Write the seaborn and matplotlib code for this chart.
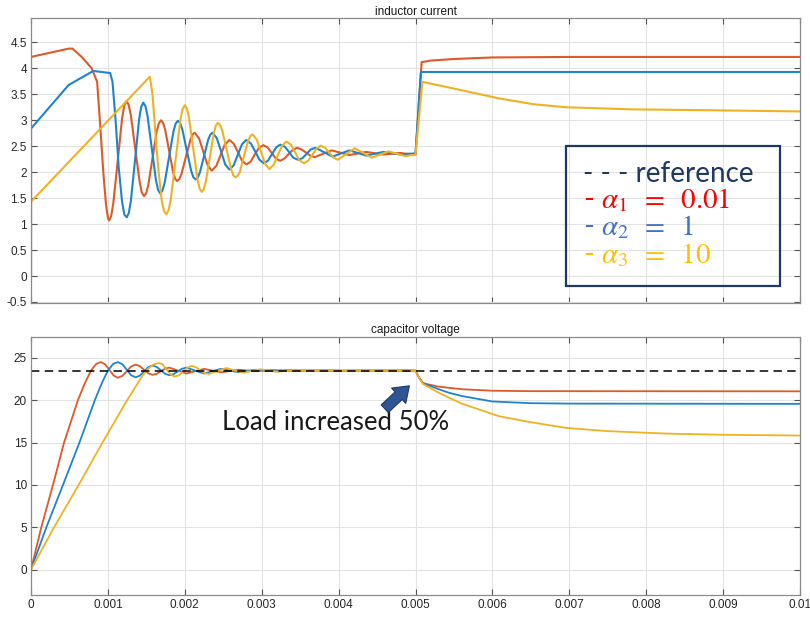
import matplotlib
matplotlib.use("Agg")
import matplotlib.pyplot as plt
import pandas as pd
import seaborn as sns
from matplotlib.patches import Rectangle

# ---------------- data (time in ms) ----------------
x_ticks = [0, 1, 2, 3, 4, 5, 6, 7, 8, 9, 10]
x_ticklabels = ["0", "0.001", "0.002", "0.003", "0.004", "0.005",
                "0.006", "0.007", "0.008", "0.009", "0.01"]
iL_yticks = [-0.5, 0, 0.5, 1, 1.5, 2, 2.5, 3, 3.5, 4, 4.5]
iL_yticklabels = ["-0.5", "0", "0.5", "1", "1.5", "2", "2.5", "3", "3.5", "4", "4.5"]
vC_yticks = [0, 5, 10, 15, 20, 25]
vC_yticklabels = ["0", "5", "10", "15", "20", "25"]

series_names = ["alpha1", "alpha2", "alpha3"]
series_colors = ["#DE5A28", "#1F84CF", "#F0B224"]

# inductor current, alpha1 = 0.01
iL_a1 = [(0, 0), (0, 4.22), (0.49, 4.38), (0.54, 4.38), (0.66, 4.22), (0.79, 4.0), (0.86, 3.74),
         (0.90, 2.9), (0.94, 2.0), (0.975, 1.38), (1.0, 1.12), (1.015, 1.07),
         (1.043, 1.157), (1.071, 1.41), (1.128, 2.22), (1.184, 3.03), (1.212, 3.28), (1.24, 3.37),
         (1.269, 3.30), (1.298, 3.10), (1.355, 2.46), (1.413, 1.81), (1.441, 1.61), (1.47, 1.54),
         (1.498, 1.595), (1.525, 1.75), (1.58, 2.27), (1.635, 2.79), (1.663, 2.94), (1.69, 3.00),
         (1.716, 2.955), (1.743, 2.83), (1.795, 2.42), (1.848, 2.00), (1.874, 1.875), (1.90, 1.83),
         (1.929, 1.865), (1.958, 1.97), (2.015, 2.30), (2.073, 2.62), (2.101, 2.725), (2.13, 2.76),
         (2.185, 2.65), (2.24, 2.40), (2.295, 2.14), (2.35, 2.03),
         (2.41, 2.12), (2.465, 2.33), (2.52, 2.53), (2.58, 2.62),
         (2.635, 2.55), (2.69, 2.39), (2.745, 2.22), (2.80, 2.15),
         (2.855, 2.20), (2.91, 2.34), (2.965, 2.47), (3.02, 2.52),
         (3.075, 2.48), (3.13, 2.37), (3.185, 2.26), (3.24, 2.22),
         (3.295, 2.26), (3.35, 2.35), (3.405, 2.43), (3.46, 2.47),
         (3.515, 2.44), (3.575, 2.38), (3.63, 2.32), (3.69, 2.29),
         (3.80, 2.355), (3.91, 2.42), (4.025, 2.375), (4.14, 2.33), (4.25, 2.36),
         (4.36, 2.39), (4.47, 2.365), (4.58, 2.34), (4.69, 2.355), (4.80, 2.37),
         (4.90, 2.35), (5.0, 2.34),
         (5.08, 4.12), (5.2, 4.15), (5.5, 4.18), (6.0, 4.21), (7.0, 4.22), (10.0, 4.22)]

# inductor current, alpha2 = 1
iL_a2 = [(0, 0), (0, 2.84), (0.49, 3.68), (0.81, 3.95), (1.03, 3.91), (1.06, 3.74),
         (1.10, 3.0), (1.14, 2.1), (1.185, 1.42), (1.215, 1.18), (1.245, 1.13),
         (1.272, 1.214), (1.299, 1.45), (1.353, 2.235), (1.406, 3.02), (1.433, 3.256), (1.46, 3.34),
         (1.488, 3.273), (1.515, 3.085), (1.57, 2.465), (1.625, 1.845), (1.653, 1.657), (1.68, 1.59),
         (1.709, 1.643), (1.738, 1.794), (1.795, 2.29), (1.853, 2.786), (1.881, 2.937), (1.91, 2.99),
         (1.939, 2.947), (1.968, 2.825), (2.025, 2.425), (2.083, 2.025), (2.111, 1.903), (2.14, 1.86),
         (2.168, 1.894), (2.195, 1.99), (2.25, 2.31), (2.305, 2.63), (2.333, 2.726), (2.36, 2.76),
         (2.415, 2.66), (2.47, 2.41), (2.525, 2.15), (2.58, 2.05),
         (2.635, 2.13), (2.69, 2.34), (2.745, 2.54), (2.80, 2.62),
         (2.86, 2.55), (2.915, 2.40), (2.97, 2.24), (3.03, 2.17),
         (3.08, 2.22), (3.135, 2.35), (3.19, 2.48), (3.24, 2.53),
         (3.30, 2.49), (3.355, 2.39), (3.41, 2.28), (3.47, 2.24),
         (3.53, 2.27), (3.585, 2.355), (3.64, 2.44), (3.70, 2.47),
         (3.81, 2.385), (3.92, 2.30), (4.03, 2.36), (4.14, 2.42), (4.25, 2.37),
         (4.36, 2.32), (4.47, 2.355), (4.58, 2.39), (4.69, 2.365), (4.80, 2.34),
         (4.90, 2.355), (5.0, 2.36),
         (5.07, 3.93), (10.0, 3.93)]

# inductor current, alpha3 = 10
iL_a3 = [(0, 0), (0, 1.43), (1.545, 3.84), (1.58, 3.5), (1.62, 2.7), (1.66, 2.0), (1.70, 1.45),
         (1.73, 1.25), (1.76, 1.19),
         (1.79, 1.27), (1.82, 1.497), (1.88, 2.24), (1.94, 2.983), (1.97, 3.21), (2.00, 3.29),
         (2.028, 3.227), (2.055, 3.046), (2.11, 2.455), (2.165, 1.864), (2.193, 1.683), (2.22, 1.62),
         (2.246, 1.67), (2.273, 1.814), (2.325, 2.285), (2.378, 2.756), (2.404, 2.899), (2.43, 2.95),
         (2.459, 2.91), (2.488, 2.797), (2.545, 2.425), (2.603, 2.053), (2.631, 1.94), (2.66, 1.90),
         (2.688, 1.932), (2.715, 2.0), (2.77, 2.315), (2.825, 2.609), (2.853, 2.698), (2.88, 2.73),
         (2.935, 2.63), (2.99, 2.40), (3.045, 2.16), (3.10, 2.06),
         (3.155, 2.14), (3.21, 2.33), (3.265, 2.51), (3.32, 2.59),
         (3.38, 2.53), (3.435, 2.38), (3.49, 2.23), (3.55, 2.17),
         (3.605, 2.22), (3.66, 2.34), (3.715, 2.46), (3.77, 2.51),
         (3.825, 2.47), (3.88, 2.375), (3.935, 2.28), (3.99, 2.24),
         (4.10, 2.35), (4.21, 2.46), (4.32, 2.37), (4.43, 2.28), (4.54, 2.34),
         (4.65, 2.40), (4.76, 2.355), (4.87, 2.31), (4.95, 2.33), (5.0, 2.33),
         (5.09, 3.74), (5.44, 3.63), (6.09, 3.42), (6.53, 3.31), (6.96, 3.25),
         (7.83, 3.21), (9.0, 3.19), (10.0, 3.17)]

# capacitor voltage, alpha1 = 0.01
vC_a1 = [(0, 0), (0.134, 5), (0.286, 10), (0.43, 15), (0.61, 20), (0.70, 22.0), (0.78, 23.5),
         (0.85, 24.3), (0.91, 24.5),
         (0.965, 24.23), (1.02, 23.58), (1.075, 22.92), (1.13, 22.65),
         (1.19, 22.88), (1.245, 23.43), (1.30, 23.97), (1.36, 24.2),
         (1.415, 24.03), (1.47, 23.6), (1.525, 23.18), (1.58, 23.0),
         (1.635, 23.12), (1.69, 23.43), (1.745, 23.73), (1.80, 23.85),
         (1.91, 23.5), (2.02, 23.15), (2.135, 23.43), (2.25, 23.7), (2.36, 23.5),
         (2.47, 23.3), (2.585, 23.45), (2.70, 23.6), (2.81, 23.51), (2.92, 23.42),
         (3.15, 23.56), (3.37, 23.46), (3.6, 23.53), (3.82, 23.48), (4.2, 23.5), (5.0, 23.5),
         (5.05, 22.6), (5.1, 22.0), (5.3, 21.6), (5.44, 21.46), (5.6, 21.3), (6.0, 21.12),
         (6.5, 21.07), (10.0, 21.05)]

# capacitor voltage, alpha2 = 1
vC_a2 = [(0, 0), (0.2, 5), (0.416, 10), (0.63, 15), (0.83, 20), (0.92, 22.0), (1.0, 23.5),
         (1.07, 24.3), (1.13, 24.5),
         (1.19, 24.24), (1.245, 23.6), (1.30, 22.96), (1.36, 22.7),
         (1.415, 22.9), (1.47, 23.4), (1.525, 23.9), (1.58, 24.1),
         (1.635, 23.93), (1.69, 23.53), (1.745, 23.12), (1.80, 22.95),
         (1.855, 23.08), (1.91, 23.4), (1.965, 23.72), (2.02, 23.85),
         (2.135, 23.5), (2.25, 23.15), (2.36, 23.43), (2.47, 23.7), (2.585, 23.5),
         (2.70, 23.3), (2.81, 23.45), (2.92, 23.6), (3.035, 23.51), (3.15, 23.42),
         (3.37, 23.56), (3.6, 23.46), (3.82, 23.53), (4.05, 23.48), (4.4, 23.5), (5.0, 23.5),
         (5.05, 22.6), (5.1, 22.0), (5.3, 21.3), (5.44, 20.87), (5.6, 20.5), (6.0, 19.85),
         (6.5, 19.65), (7.0, 19.6), (10.0, 19.57)]

# capacitor voltage, alpha3 = 10
vC_a3 = [(0, 0), (0.3, 5), (0.62, 10), (0.93, 15), (1.25, 20), (1.45, 22.9), (1.52, 23.7),
         (1.59, 24.2), (1.66, 24.4),
         (1.71, 24.25), (1.765, 23.6), (1.82, 23.0), (1.87, 22.8),
         (1.925, 22.95), (1.98, 23.4), (2.035, 23.85), (2.09, 24.05),
         (2.145, 23.9), (2.2, 23.55), (2.255, 23.2), (2.31, 23.1),
         (2.425, 23.45), (2.54, 23.8), (2.65, 23.52), (2.76, 23.25), (2.87, 23.45),
         (2.98, 23.65), (3.09, 23.5), (3.2, 23.35), (3.42, 23.58), (3.64, 23.44),
         (3.86, 23.53), (4.1, 23.48), (4.5, 23.5), (5.0, 23.5),
         (5.05, 22.6), (5.1, 21.9), (5.3, 20.9), (5.44, 20.28), (5.6, 19.6), (6.09, 18.1),
         (6.5, 17.4), (6.96, 16.73), (7.5, 16.35), (8.26, 16.06), (9.0, 15.92), (10.0, 15.83)]

ref_t = [0, 10]
ref_v = [23.5, 23.5]

legend_labels = ["- - - reference", r"- $\alpha_1\;\;=\;\;0.01$", r"- $\alpha_2\;\;=\;\;1$",
                 r"- $\alpha_3\;\;=\;\;10$"]
legend_colors = ["#1F3864", "#FF0000", "#4472C4", "#FFC000"]
annotation_text = "Load increased 50%"

# ---------------- figure ----------------
sns.set_theme(style="whitegrid")
plt.rcParams['font.family'] = ['Liberation Sans', 'DejaVu Sans']
plt.rcParams['mathtext.fontset'] = 'stix'

W, H = 810, 617
fig = plt.figure(figsize=(W / 100, H / 100), dpi=100)
fig.patch.set_facecolor("white")


def fx(x):
    return x / W


def fy(y):
    return 1 - y / H


ax1 = fig.add_axes([fx(31), fy(303), fx(800) - fx(31), fy(18) - fy(303)])
ax2 = fig.add_axes([fx(31), fy(595), fx(800) - fx(31), fy(336.7) - fy(595)])


def to_df(points, name):
    return pd.DataFrame({"t": [p[0] for p in points], "v": [p[1] for p in points], "series": name})


iL_df = pd.concat([to_df(iL_a1, "alpha1"), to_df(iL_a2, "alpha2"), to_df(iL_a3, "alpha3")],
                  ignore_index=True)
vC_df = pd.concat([to_df(vC_a1, "alpha1"), to_df(vC_a2, "alpha2"), to_df(vC_a3, "alpha3")],
                  ignore_index=True)
palette = dict(zip(series_names, series_colors))

sns.lineplot(data=iL_df, x="t", y="v", hue="series", units="series", palette=palette,
             estimator=None, sort=False, linewidth=1.5, legend=False, ax=ax1)
sns.lineplot(data=vC_df, x="t", y="v", hue="series", units="series", palette=palette,
             estimator=None, sort=False, linewidth=1.3, legend=False, ax=ax2)
sns.lineplot(x=ref_t, y=ref_v, color="black", linewidth=1.1, dashes=False, ax=ax2,
             linestyle=(0, (5.5, 3.5)))

for ax in (ax1, ax2):
    ax.set_facecolor("white")
    ax.grid(True, color="#E3E3E3", linewidth=0.8)
    ax.set_axisbelow(True)
    for s in ax.spines.values():
        s.set_color("#8A8A8A")
        s.set_linewidth(0.9)
        s.set_visible(True)
    ax.tick_params(direction="in", top=True, right=True, bottom=True, left=True,
                   length=4, width=0.8, color="#555555", labelsize=8.5, labelcolor="#262626", pad=3)
    ax.set_xlim(0, 10)
    ax.set_xticks(x_ticks)
    ax.set_xlabel("")
    ax.set_ylabel("")

ax1.set_xticklabels([])
ax2.set_xticklabels(x_ticklabels)
ax1.set_ylim(-0.52, 4.97)
ax1.set_yticks(iL_yticks)
ax1.set_yticklabels(iL_yticklabels)
ax2.set_ylim(-3, 27.5)
ax2.set_yticks(vC_yticks)
ax2.set_yticklabels(vC_yticklabels)

ax1.set_title("inductor current", fontsize=8.5, pad=2.5, color="#1a1a1a")
ax2.set_title("capacitor voltage", fontsize=8.5, pad=2.5, color="#1a1a1a")

# legend-like text box
fig.add_artist(Rectangle((fx(565.7), fy(285.7)), fx(780) - fx(565.7), fy(145.7) - fy(285.7),
                         transform=fig.transFigure, fill=False, edgecolor="#1F3864", linewidth=1.6))
baselines = [182, 208, 235, 263]
sizes = [20, 21, 21, 21]
for lab, col, yb, fs in zip(legend_labels, legend_colors, baselines, sizes):
    fig.text(fx(583), fy(yb), lab, color=col, fontsize=fs, family=["Lato", "DejaVu Sans"],
             va="baseline", ha="left")

# annotation
ax2.text(2.48, 16.45, annotation_text, fontsize=18.5, family=["Lato", "DejaVu Sans"],
         color="#1a1a1a", va="baseline", ha="left")
ax2.annotate("", xy=(4.92, 21.7), xytext=(4.60, 19.0),
             arrowprops=dict(arrowstyle="simple,head_width=1.0,head_length=0.7,tail_width=0.5",
                             mutation_scale=15, fc="#2F5597", ec="#1F3864", lw=0.8,
                             shrinkA=0, shrinkB=0))

fig.savefig("out.png", dpi=100)
